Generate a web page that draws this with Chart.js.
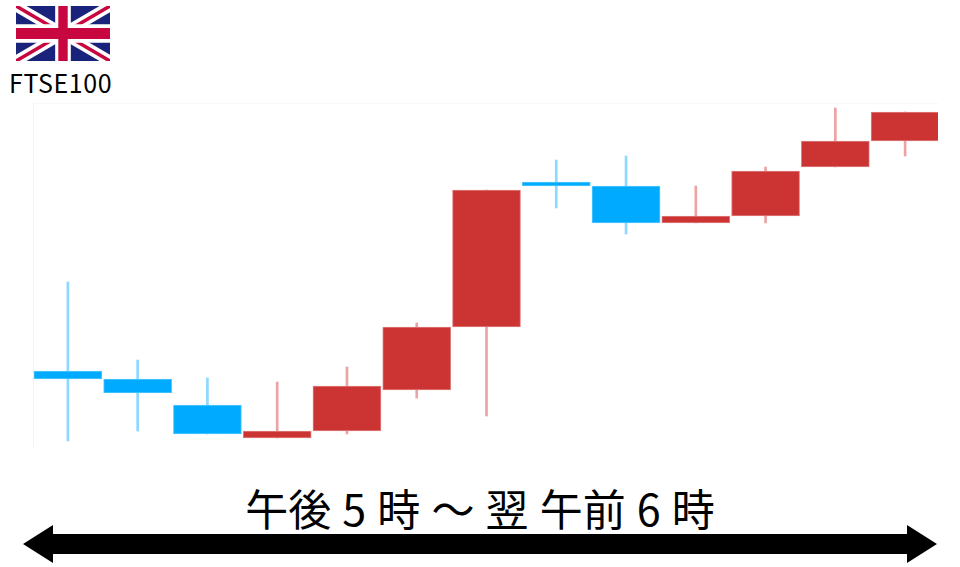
<!DOCTYPE html>
<html lang="ja">
<head>
<meta charset="utf-8">
<title>FTSE100</title>
<script src="https://cdn.jsdelivr.net/npm/chart.js@4/dist/chart.umd.min.js"></script>
<style>
  html, body { margin: 0; padding: 0; background: #fff; }
  body { position: relative; width: 960px; height: 567px; overflow: hidden; font-family: "Noto Sans CJK JP", "Noto Sans", sans-serif; color: #000; }
  #flag { position: absolute; left: 16px; top: 6px; }
  #index-name { position: absolute; left: 9px; top: 66px; font-size: 25px; letter-spacing: 0.6px; line-height: 32px; }
  /* last candle is cut off at the right edge in the original */
  #chart-clip { position: absolute; left: 33px; top: 103px; width: 905px; height: 344px; overflow: hidden; }
  #chart-wrap { position: relative; width: 907px; height: 344px; }
  #session { position: absolute; left: 0; width: 960px; top: 479px; text-align: center; font-size: 43px; line-height: 56px; word-spacing: 1.5px; white-space: pre; }
  #arrow { position: absolute; left: 0; top: 520px; }
</style>
</head>
<body>
<svg id="flag" width="94" height="55" viewBox="0 0 60 30" preserveAspectRatio="none">
  <rect width="60" height="30" fill="#1a237b"/>
  <path d="M0,0 L60,30 M60,0 L0,30" stroke="#fff" stroke-width="6"/>
  <path d="M0,0 L60,30 M60,0 L0,30" stroke="#c8063f" stroke-width="2"/>
  <path d="M30,0 V30 M0,15 H60" stroke="#fff" stroke-width="10"/>
  <path d="M30,0 V30 M0,15 H60" stroke="#c8063f" stroke-width="6"/>
</svg>
<div id="index-name">FTSE100</div>
<div id="chart-clip"><div id="chart-wrap"><canvas id="candles"></canvas></div></div>
<div id="session">午後 5 時 ～ 翌 午前 6 時</div>
<svg id="arrow" width="960" height="47">
  <polygon points="23,24 53,5 53,14 907,14 907,5 937,24 907,43 907,34 53,34 53,43" fill="#000"/>
</svg>
<script>
const categories = ['17', '18', '19', '20', '21', '22', '23', '0', '1', '2', '3', '4', '5'];
// units are arbitrary (the original has no value axis)
const opens  = [76, 68, 42, 9, 16, 57, 120, 265, 261, 224, 231, 280, 306];
const closes = [68, 54, 13, 16, 61, 120, 257, 261, 224, 231, 276, 306, 335];
const highs  = [165, 87, 69, 65, 80, 124, 257, 287, 291, 261, 280, 339, 335];
const lows   = [6, 16, 13, 9, 13, 49, 31, 239, 213, 224, 224, 280, 291];

const UP = '#cc3333';
const DOWN = '#00aaff';
const UP_WICK = '#eba3a3';
const DOWN_WICK = '#8cd8ff';
const UP_EDGE = '#e08080';
const DOWN_EDGE = '#55c8ff';

const isUp = opens.map((o, i) => closes[i] >= o);

new Chart(document.getElementById('candles'), {
  type: 'bar',
  data: {
    labels: categories,
    datasets: [
      {
        label: 'body',
        data: opens.map((o, i) => [o, closes[i]]),
        backgroundColor: isUp.map(u => u ? UP : DOWN),
        borderColor: isUp.map(u => u ? UP_EDGE : DOWN_EDGE),
        borderWidth: 1,
        borderSkipped: false,
        barThickness: 68,
        order: 1
      },
      {
        label: 'wick',
        data: lows.map((l, i) => [l, highs[i]]),
        backgroundColor: isUp.map(u => u ? UP_WICK : DOWN_WICK),
        barThickness: 2,
        order: 2
      }
    ]
  },
  options: {
    responsive: true,
    maintainAspectRatio: false,
    animation: false,
    layout: { padding: 0 },
    plugins: { legend: { display: false }, tooltip: { enabled: false } },
    scales: {
      x: {
        offset: true,
        grid: { display: false, drawTicks: false },
        border: { display: false },
        ticks: { display: false, padding: 0 }
      },
      y: {
        min: 0,
        max: 344,
        grid: {
          drawTicks: false,
          color: ctx => ctx.tick.value === 344 ? '#f8f8f8' : 'transparent'
        },
        border: { display: true, color: '#f4f4f4', width: 1 },
        ticks: { display: false, stepSize: 344, padding: 0 }
      }
    },
    datasets: { bar: { grouped: false } }
  }
});
</script>
</body>
</html>
